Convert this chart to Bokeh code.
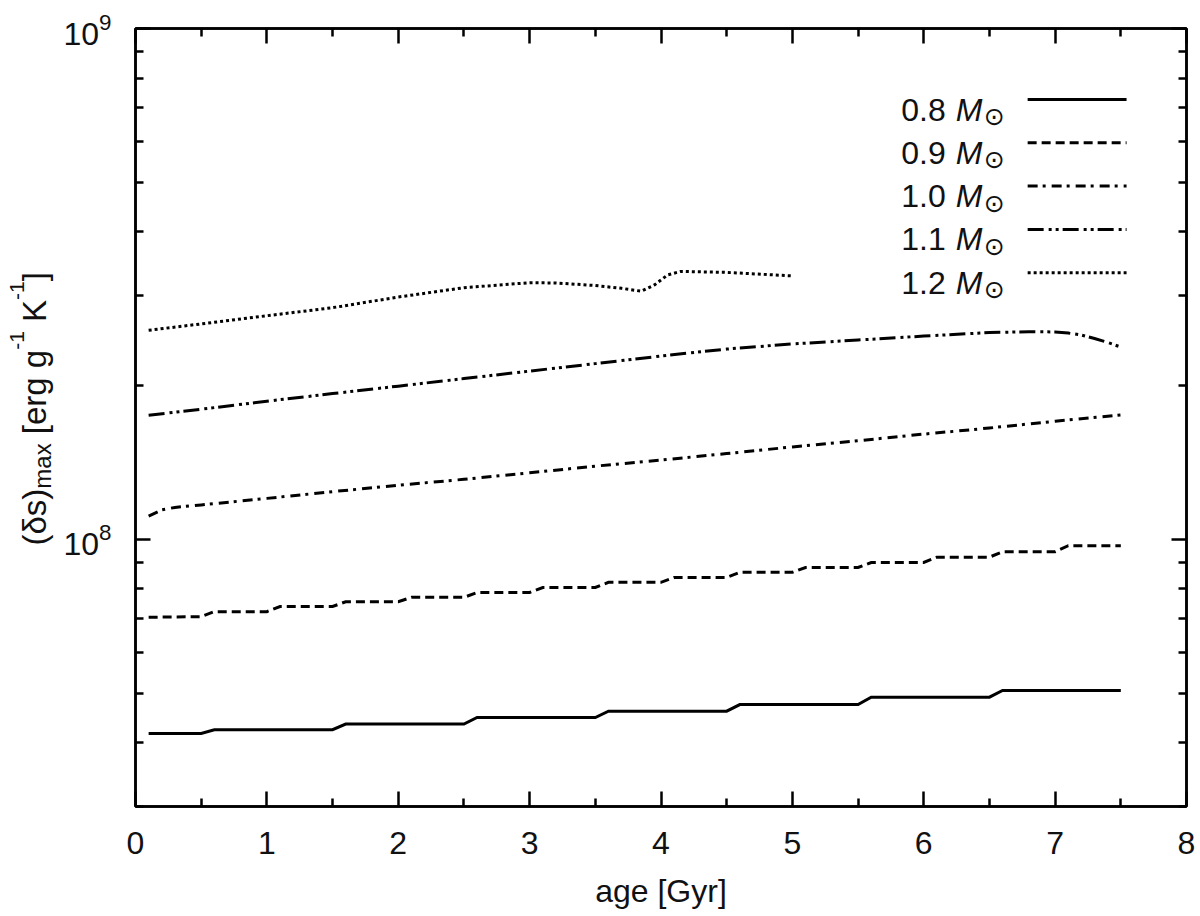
import math
from bokeh.plotting import figure
from bokeh.layouts import row
from bokeh.models import (FixedTicker, LinearAxis, LogAxis, Label, Range1d,
                          CustomJSTickFormatter)
from bokeh.embed import file_html
from bokeh.resources import INLINE

# ---------------- data ----------------
masses = [0.8, 0.9, 1.0, 1.1, 1.2]

age_08 = [0.1, 0.5, 0.6, 1.5, 1.6, 2.5, 2.6, 3.5, 3.6, 4.5, 4.6, 5.5, 5.6, 6.5, 6.6, 7.5]
ds_08 = [4.17e7, 4.17e7, 4.24e7, 4.24e7, 4.35e7, 4.35e7, 4.48e7, 4.48e7,
         4.61e7, 4.61e7, 4.75e7, 4.75e7, 4.91e7, 4.91e7, 5.06e7, 5.06e7]

age_09 = [0.1, 0.5, 0.6, 1.0, 1.1, 1.5, 1.6, 2.0, 2.1, 2.5, 2.6, 3.0, 3.1, 3.5, 3.6,
          4.0, 4.1, 4.5, 4.6, 5.0, 5.1, 5.5, 5.6, 6.0, 6.1, 6.5, 6.6, 7.0, 7.1, 7.5]
ds_09 = [7.04e7, 7.06e7, 7.22e7, 7.22e7, 7.39e7, 7.39e7, 7.55e7, 7.55e7, 7.70e7, 7.70e7,
         7.87e7, 7.87e7, 8.05e7, 8.05e7, 8.24e7, 8.24e7, 8.42e7, 8.42e7, 8.62e7, 8.62e7,
         8.81e7, 8.81e7, 9.01e7, 9.01e7, 9.23e7, 9.23e7, 9.46e7, 9.46e7, 9.72e7, 9.72e7]

age_10 = [0.1, 0.2, 0.3, 0.5, 1.0, 1.5, 2.0, 2.5, 3.0, 3.5, 4.0, 4.5, 5.0, 5.5, 6.0, 6.5, 7.0, 7.5]
ds_10 = [1.110e8, 1.142e8, 1.155e8, 1.168e8, 1.203e8, 1.240e8, 1.276e8, 1.311e8, 1.350e8,
         1.391e8, 1.430e8, 1.472e8, 1.517e8, 1.560e8, 1.607e8, 1.652e8, 1.703e8, 1.752e8]

age_11 = [0.1, 0.5, 1.0, 1.5, 2.0, 2.5, 3.0, 3.5, 4.0, 4.5, 5.0, 5.5, 6.0, 6.5, 6.8,
          7.0, 7.1, 7.2, 7.3, 7.4, 7.5]
ds_11 = [1.750e8, 1.798e8, 1.864e8, 1.929e8, 1.995e8, 2.064e8, 2.135e8, 2.208e8, 2.285e8,
         2.358e8, 2.413e8, 2.456e8, 2.500e8, 2.540e8, 2.550e8, 2.547e8, 2.534e8, 2.512e8,
         2.473e8, 2.429e8, 2.379e8]

age_12 = [0.1, 0.5, 1.0, 1.5, 2.0, 2.5, 3.0, 3.2, 3.5, 3.7, 3.85, 3.95, 4.05, 4.15, 4.5, 5.0]
ds_12 = [2.566e8, 2.641e8, 2.740e8, 2.841e8, 2.981e8, 3.109e8, 3.180e8, 3.176e8, 3.140e8,
         3.100e8, 3.060e8, 3.148e8, 3.293e8, 3.346e8, 3.331e8, 3.279e8]

x_major = [0, 1, 2, 3, 4, 5, 6, 7, 8]
x_minor = [0.5, 1.5, 2.5, 3.5, 4.5, 5.5, 6.5, 7.5]
y_major = [1e8, 1e9]
y_minor = [3e7, 4e7, 5e7, 6e7, 7e7, 8e7, 9e7,
           2e8, 3e8, 4e8, 5e8, 6e8, 7e8, 8e8, 9e8]

x_label = "age [Gyr]"

# ---------------- layout (page pixels) ----------------
PAGE_W, PAGE_H = 1196, 914
SIDE_W = 60                      # narrow strip holding the rotated y label
X0, X1 = 0.0, 8.0
Y0, Y1 = 3e7, 1e9
FL, FR, FT, FB = 134, 1186, 28, 806   # frame edges in page pixels

def X(px):
    return X0 + (px - FL) / (FR - FL) * (X1 - X0)
def Y(py):
    l0, l1 = math.log10(Y0), math.log10(Y1)
    return 10 ** (l1 - (py - FT) / (FB - FT) * (l1 - l0))

FONT = "Liberation Sans"
INK = "#111111"

p = figure(width=PAGE_W - SIDE_W, height=PAGE_H,
           x_range=Range1d(X0, X1), y_range=Range1d(Y0, Y1),
           y_axis_type="log", output_backend="svg", toolbar_location=None,
           min_border_left=FL - SIDE_W, min_border_right=PAGE_W - FR,
           min_border_top=FT, min_border_bottom=PAGE_H - FB,
           background_fill_color="white", border_fill_color="white")
p.xgrid.visible = False
p.ygrid.visible = False
p.outline_line_color = "black"
p.outline_line_width = 2.5

def style_axis(ax):
    ax.major_tick_in = 15
    ax.major_tick_out = 0
    ax.minor_tick_in = 8
    ax.minor_tick_out = 0
    ax.major_tick_line_width = 2.5
    ax.minor_tick_line_width = 2.5
    ax.axis_line_width = 2.5
    ax.major_tick_line_color = "black"
    ax.minor_tick_line_color = "black"
    ax.axis_line_color = "black"
    ax.major_label_text_font = FONT
    ax.major_label_text_font_size = "32px"
    ax.major_label_text_color = INK

xa = p.xaxis[0]
xa.ticker = FixedTicker(ticks=x_major, minor_ticks=x_minor)
style_axis(xa)
xa.major_label_standoff = 25
xa.axis_label = x_label
xa.axis_label_text_font = FONT
xa.axis_label_text_font_size = "32px"
xa.axis_label_text_font_style = "normal"
xa.axis_label_text_color = INK
xa.axis_label_standoff = 16

ya = p.yaxis[0]
ya.ticker = FixedTicker(ticks=y_major, minor_ticks=y_minor)
style_axis(ya)
ya.major_label_standoff = 24

top = LinearAxis(ticker=FixedTicker(ticks=x_major, minor_ticks=x_minor),
                 formatter=CustomJSTickFormatter(code="return ''"))
style_axis(top)
top.major_label_standoff = 0
p.add_layout(top, "above")
right = LogAxis(ticker=FixedTicker(ticks=y_major, minor_ticks=y_minor),
                formatter=CustomJSTickFormatter(code="return ''"))
style_axis(right)
right.major_label_standoff = 0
p.add_layout(right, "right")

# ---------------- series ----------------
series = [
    (age_08, ds_08, "solid", 3.0),
    (age_09, ds_09, "9 5", 3.0),
    (age_10, ds_10, "10 5 3 6", 3.0),
    (age_11, ds_11, "16 5 3 4 3 4", 3.0),
    (age_12, ds_12, "3 3", 3.0),
]
for xs, ys, dash, lw in series:
    p.line(xs, ys, line_color="black", line_width=lw, line_dash=dash, line_join="miter")

# ---------------- legend (label left, sample right) ----------------
for i, (m, (xs, ys, dash, lw)) in enumerate(zip(masses, series)):
    ly = 99 + 43.3 * i
    by = 109 + 43.3 * i
    p.line([X(1027), X(1126)], [Y(ly), Y(ly)], line_color="black",
           line_width=lw, line_dash=dash)
    p.add_layout(Label(x=X(945), y=Y(by), text=f"{m:.1f}", text_align="right",
                       text_baseline="alphabetic", text_font=FONT,
                       text_font_size="32px", text_color=INK))
    p.add_layout(Label(x=X(955), y=Y(by), text="M", text_align="left",
                       text_baseline="alphabetic", text_font=FONT,
                       text_font_style="italic", text_font_size="32px",
                       text_color=INK))
    p.add_layout(Label(x=X(983), y=Y(by + 7), text="\u2299", text_align="left",
                       text_baseline="alphabetic", text_font="DejaVu Sans",
                       text_font_size="25px", text_color=INK))

# ---------------- y-axis label: narrow strip, page-pixel coordinates ----------------
side = figure(width=SIDE_W, height=PAGE_H, x_range=Range1d(0, SIDE_W),
              y_range=Range1d(FB, FT), output_backend="svg",
              toolbar_location=None, x_axis_location=None, y_axis_location=None,
              min_border_left=0, min_border_right=0,
              min_border_top=FT, min_border_bottom=PAGE_H - FB,
              outline_line_color=None,
              background_fill_color="white", border_fill_color="white")
side.grid.visible = False

ylabel_parts = [
    ("(\u03b4s)", 545.0, 34, "33px"),
    ("max", 488.2, 42, "24px"),
    ("[erg g", 433.7, 34, "33px"),
    ("-1", 349.3, 16, "21px"),
    ("K", 321.4, 34, "33px"),
    ("-1", 299.4, 16, "21px"),
    ("]", 280.7, 34, "33px"),
]
for txt, py, px, fs in ylabel_parts:
    side.add_layout(Label(x=px, y=py, text=txt, angle=math.pi / 2,
                          text_align="left", text_baseline="alphabetic",
                          text_font=FONT, text_font_size=fs, text_color=INK))

layout = row(side, p, spacing=0)
open("out.html", "w").write(file_html(layout, INLINE))
